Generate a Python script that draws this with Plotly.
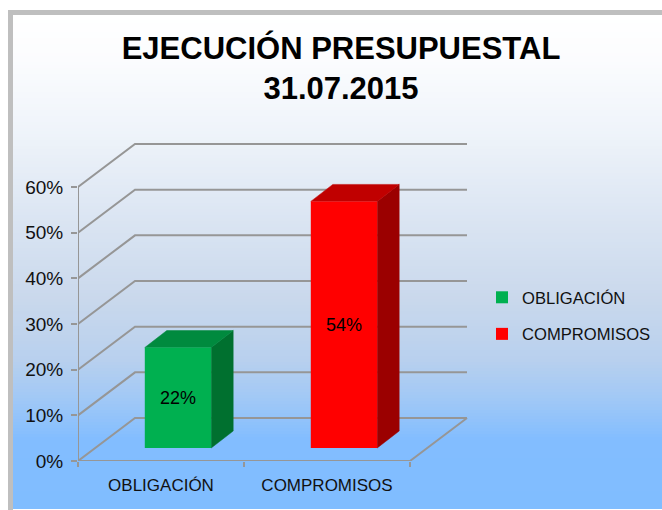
import plotly.graph_objects as go

# ---- data ----
categories = ["OBLIGACIÓN", "COMPROMISOS"]
values = [22, 54]
y_ticks = [0, 10, 20, 30, 40, 50, 60]
title_lines = ["EJECUCIÓN PRESUPUESTAL", "31.07.2015"]
front_colors = ["#00B050", "#FF0000"]
top_colors = ["#008A3E", "#C00000"]
side_colors = ["#00702F", "#9B0000"]

# ---- pixel geometry of the pseudo-3D box ----
W, H = 662, 510
PX0, PX1 = 78, 410      # front floor edge
PY0, PY60 = 461, 187    # front wall, 0% and 60%
WALL_DX, WALL_DY = 57, 43
BAR_DX, BAR_DY = 22, 17
BASE_DX, BASE_DY = 17, 13
BAR_WIDTH = 0.4

ux = (PX1 - PX0) / 2        # px per category
uy = (PY0 - PY60) / 60      # px per percent
dom_l, dom_r, dom_t, dom_b = PX0, 472, 138, PY0
x_lo = -0.5
x_hi = x_lo + (dom_r - dom_l) / ux
y_hi = (dom_b - dom_t) / uy
wx, wy = WALL_DX / ux, WALL_DY / uy
bx, by = BAR_DX / ux, BAR_DY / uy
sx, base = BASE_DX / ux, BASE_DY / uy
x_end = x_lo + (PX1 - PX0) / ux

fig = go.Figure()

# ---- background: white page, grey frame, vertical gradient ----
stops = [(16, (255, 255, 255)), (60, (251, 252, 254)), (130, (239, 244, 250)),
         (200, (223, 232, 244)), (300, (201, 216, 236)), (360, (184, 208, 238)),
         (400, (160, 200, 246)), (440, (130, 189, 255)), (510, (128, 189, 255))]
def grad(y):
    for (a, ca), (b, cb) in zip(stops, stops[1:]):
        if a <= y <= b:
            t = (y - a) / (b - a)
            return "rgb(%d,%d,%d)" % tuple(round(p + (q - p) * t) for p, q in zip(ca, cb))
    return "white"
shapes = []
def rect(x0, y0, x1, y1, color):
    shapes.append(dict(type="rect", xref="paper", yref="paper", layer="below",
                       x0=x0 / W, x1=x1 / W, y0=1 - y1 / H, y1=1 - y0 / H,
                       fillcolor=color, line_width=0))
for y in range(14, 510, 3):
    rect(8, y, 662, min(y + 3, 510), grad(y + 1.5))
rect(8, 10, 662, 15, "#BFBFBF")
rect(8, 10, 13, 510, "#BFBFBF")

# ---- walls, gridlines and floor ----
gx, gy = [], []
for v in y_ticks:
    gx += [x_lo, x_lo + wx, x_end + wx, None]
    gy += [v, v + wy, v + wy, None]
gx += [x_lo, x_end, x_end + wx, None, x_lo, x_lo]
gy += [0, 0, wy, None, 0, y_ticks[-1]]
fig.add_trace(go.Scatter(x=gx, y=gy, mode="lines", line=dict(color="#969696", width=2),
                         showlegend=False, hoverinfo="skip", cliponaxis=False, zorder=0))

# ---- bars ----
for i, (cat, val) in enumerate(zip(categories, values)):
    xc = i + sx
    xl, xr = xc - BAR_WIDTH / 2, xc + BAR_WIDTH / 2
    yb, yt = base, base + val
    fig.add_trace(go.Scatter(x=[xr, xr + bx, xr + bx, xr, xr], y=[yb, yb + by, yt + by, yt, yb],
                             mode="lines", fill="toself", fillcolor=side_colors[i],
                             line=dict(color=side_colors[i], width=0.5), showlegend=False,
                             hoverinfo="skip", zorder=1))
    fig.add_trace(go.Scatter(x=[xl, xr, xr + bx, xl + bx, xl], y=[yt, yt, yt + by, yt + by, yt],
                             mode="lines", fill="toself", fillcolor=top_colors[i],
                             line=dict(color=top_colors[i], width=0.5), showlegend=False,
                             hoverinfo="skip", zorder=1))
    fig.add_trace(go.Bar(x=[xc], y=[val], base=base, width=BAR_WIDTH, name=cat,
                         legendgroup=cat, marker=dict(color=front_colors[i], line_width=0),
                         text=["%d%%" % val], textposition="inside", insidetextanchor="middle",
                         textangle=0, textfont=dict(color="black", size=18,
                                                    family="Liberation Sans"), zorder=2))

fig.update_layout(
    width=W, height=H, autosize=False,
    margin=dict(l=0, r=0, t=0, b=0, autoexpand=False),
    paper_bgcolor="white", plot_bgcolor="rgba(0,0,0,0)",
    font=dict(family="Liberation Sans", color="black", size=17),
    shapes=shapes, barmode="overlay",
    title=dict(text="<br>".join(title_lines), x=341 / W, xanchor="center",
               y=1 - 59 / H, yanchor="top",
               font=dict(family="Liberation Sans", size=31, weight="bold", color="black")),
    legend=dict(x=482 / W, xanchor="left", y=1 - 280 / H, yanchor="top",
                bgcolor="rgba(0,0,0,0)", tracegroupgap=12, itemclick=False,
                font=dict(size=16.6, color="#111111")),
    xaxis=dict(domain=[dom_l / W, dom_r / W], range=[x_lo, x_hi], showgrid=False, zeroline=False,
               showline=False, automargin=False, tickmode="array", tickvals=[0, 1], ticktext=categories, ticks="",
               tickfont=dict(size=17, color="#111111"), ticklabelstandoff=12,
               minor=dict(tickmode="array", tickvals=[x_lo, x_lo + 1, x_lo + 2], ticks="outside",
                          ticklen=5, tickwidth=1.5, tickcolor="#969696")),
    yaxis=dict(domain=[1 - dom_b / H, 1 - dom_t / H], range=[0, y_hi], showgrid=False,
               zeroline=False, showline=False, automargin=False, tickmode="array", tickvals=y_ticks,
               ticktext=["%d%%" % v for v in y_ticks], ticks="outside", ticklen=6, tickwidth=1.5,
               tickcolor="#969696", tickfont=dict(size=19, color="#111111"), ticklabelstandoff=4),
)

fig.write_html("out.html", config={"displayModeBar": False},
               post_script="document.body.style.margin='0';document.body.style.overflow='hidden';")
